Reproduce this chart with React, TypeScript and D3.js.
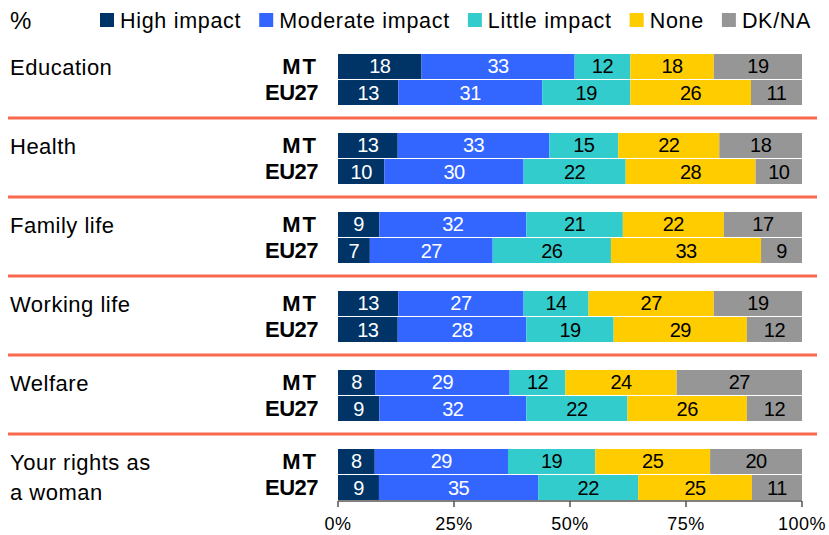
import { useRef, useEffect } from "react";
import * as d3 from "d3";

const categories = ["Education", "Health", "Family life", "Working life", "Welfare", "Your rights as\na woman"];
const countries = ["MT", "EU27"];
const seriesNames = ["High impact", "Moderate impact", "Little impact", "None", "DK/NA"];
const mtValues = [
    [18, 33, 12, 18, 19],
    [13, 33, 15, 22, 18],
    [9, 32, 21, 22, 17],
    [13, 27, 14, 27, 19],
    [8, 29, 12, 24, 27],
    [8, 29, 19, 25, 20],
];
const eu27Values = [
    [13, 31, 19, 26, 11],
    [10, 30, 22, 28, 10],
    [7, 27, 26, 33, 9],
    [13, 28, 19, 29, 12],
    [9, 32, 22, 26, 12],
    [9, 35, 22, 25, 11],
];
const tickValues = [0, 0.25, 0.5, 0.75, 1];
const colours = ["#003366", "#3366FF", "#33CCCC", "#FFCC00", "#969696"];

const W = 829;
const H = 535;
const FONT = "'Liberation Sans', Arial, sans-serif";

function App() {
    const svgRef = useRef<SVGSVGElement>(null);

    useEffect(() => {
        const svg = d3.select(svgRef.current);
        svg.selectAll("*").remove();

        const x = d3.scaleLinear().domain([0, 1]).range([338, 802]);
        const yGroup = d3.scaleBand().domain(categories).range([40, 514]);
        const yInner = d3.scaleBand().domain(countries).range([14, 65]).paddingInner(0.04);

        // rows: one per category x country, values normalised to 100%
        const rows = categories.flatMap((cat, i) =>
            countries.map((c) => {
                const vals = c === "MT" ? mtValues[i] : eu27Values[i];
                const total = d3.sum(vals);
                let acc = 0;
                const segs = vals.map((v, k) => {
                    const s = { k, v, x0: acc / total, x1: (acc + v) / total };
                    acc += v;
                    return s;
                });
                return { cat, country: c, segs };
            })
        );

        // separators
        svg.append("g")
            .selectAll("line")
            .data(categories.slice(1))
            .join("line")
            .attr("x1", 8)
            .attr("x2", 817)
            .attr("y1", d => yGroup(d)! - 1)
            .attr("y2", d => yGroup(d)! - 1)
            .attr("stroke", "#F8694D")
            .attr("stroke-width", 3);

        // category labels
        svg.append("g")
            .selectAll("text")
            .data(categories)
            .join("text")
            .attr("font-family", FONT)
            .attr("font-size", 22)
            .attr("letter-spacing", 0.5)
            .attr("fill", "#000")
            .each(function (d) {
                const lines = d.split("\n");
                const top = yGroup(d)! + yInner("MT")!;
                d3.select(this)
                    .selectAll("tspan")
                    .data(lines)
                    .join("tspan")
                    .attr("x", 10)
                    .attr("y", (_, j) => top + 20.5 + j * 30)
                    .text(t => t);
            });

        const rowG = svg.append("g")
            .selectAll("g")
            .data(rows)
            .join("g")
            .attr("transform", d => `translate(0,${yGroup(d.cat)! + yInner(d.country)!})`);

        const bw = yInner.bandwidth();

        // country labels
        rowG.append("text")
            .attr("x", 318)
            .attr("y", bw / 2 + 7.5)
            .attr("text-anchor", "end")
            .attr("font-family", FONT)
            .attr("font-weight", "bold")
            .attr("font-size", 22)
            .attr("letter-spacing", d => d.country === "MT" ? 2 : -0.5)
            .text(d => d.country);

        // bars
        rowG.selectAll("rect")
            .data(d => d.segs)
            .join("rect")
            .attr("x", d => x(d.x0))
            .attr("y", 0)
            .attr("width", d => x(d.x1) - x(d.x0))
            .attr("height", bw)
            .attr("fill", d => colours[d.k]);

        rowG.selectAll("text.val")
            .data(d => d.segs)
            .join("text")
            .attr("class", "val")
            .attr("x", d => (x(d.x0) + x(d.x1)) / 2)
            .attr("y", bw / 2 + 7)
            .attr("text-anchor", "middle")
            .attr("font-family", FONT)
            .attr("font-size", 20)
            .attr("letter-spacing", -0.5)
            .attr("fill", d => d.k < 2 ? "#fff" : "#000")
            .text(d => d.v);

        // x axis
        const axisY = yGroup(categories[categories.length - 1])! + yInner("EU27")! + bw + 1;
        const axis = svg.append("g").attr("transform", `translate(0,${axisY})`);
        axis.append("line")
            .attr("x1", x(0)).attr("x2", x(1))
            .attr("stroke", "#555").attr("stroke-width", 1.5);
        axis.selectAll("line.tick")
            .data(tickValues)
            .join("line")
            .attr("class", "tick")
            .attr("x1", d => x(d)).attr("x2", d => x(d))
            .attr("y1", 0).attr("y2", 6)
            .attr("stroke", "#555").attr("stroke-width", 1.5);
        axis.selectAll("text")
            .data(tickValues)
            .join("text")
            .attr("x", d => x(d))
            .attr("y", 29)
            .attr("text-anchor", "middle")
            .attr("font-family", FONT)
            .attr("font-size", 18)
            .attr("letter-spacing", 0.5)
            .text(d => d3.format(".0%")(d));

        // legend
        svg.append("text")
            .attr("x", 10).attr("y", 29)
            .attr("font-family", FONT).attr("font-size", 24)
            .text("%");
        let lx = 100;
        seriesNames.forEach((name, k) => {
            svg.append("rect")
                .attr("x", lx).attr("y", 13)
                .attr("width", 14).attr("height", 14)
                .attr("fill", colours[k]);
            const t = svg.append("text")
                .attr("x", lx + 20).attr("y", 28)
                .attr("font-family", FONT).attr("font-size", 21.5)
                .attr("letter-spacing", 0.7)
                .text(name);
            const len = (t.node() as SVGTextElement).getComputedTextLength();
            lx += 20 + len + 18;
        });

        return () => {
            svg.selectAll("*").remove();
        };
    }, []);

    return (
        <svg ref={svgRef} width={W} height={H} style={{ position: "absolute", left: 0, top: 0, background: "#fff" }}>
        </svg>
    );
}

export default App;
